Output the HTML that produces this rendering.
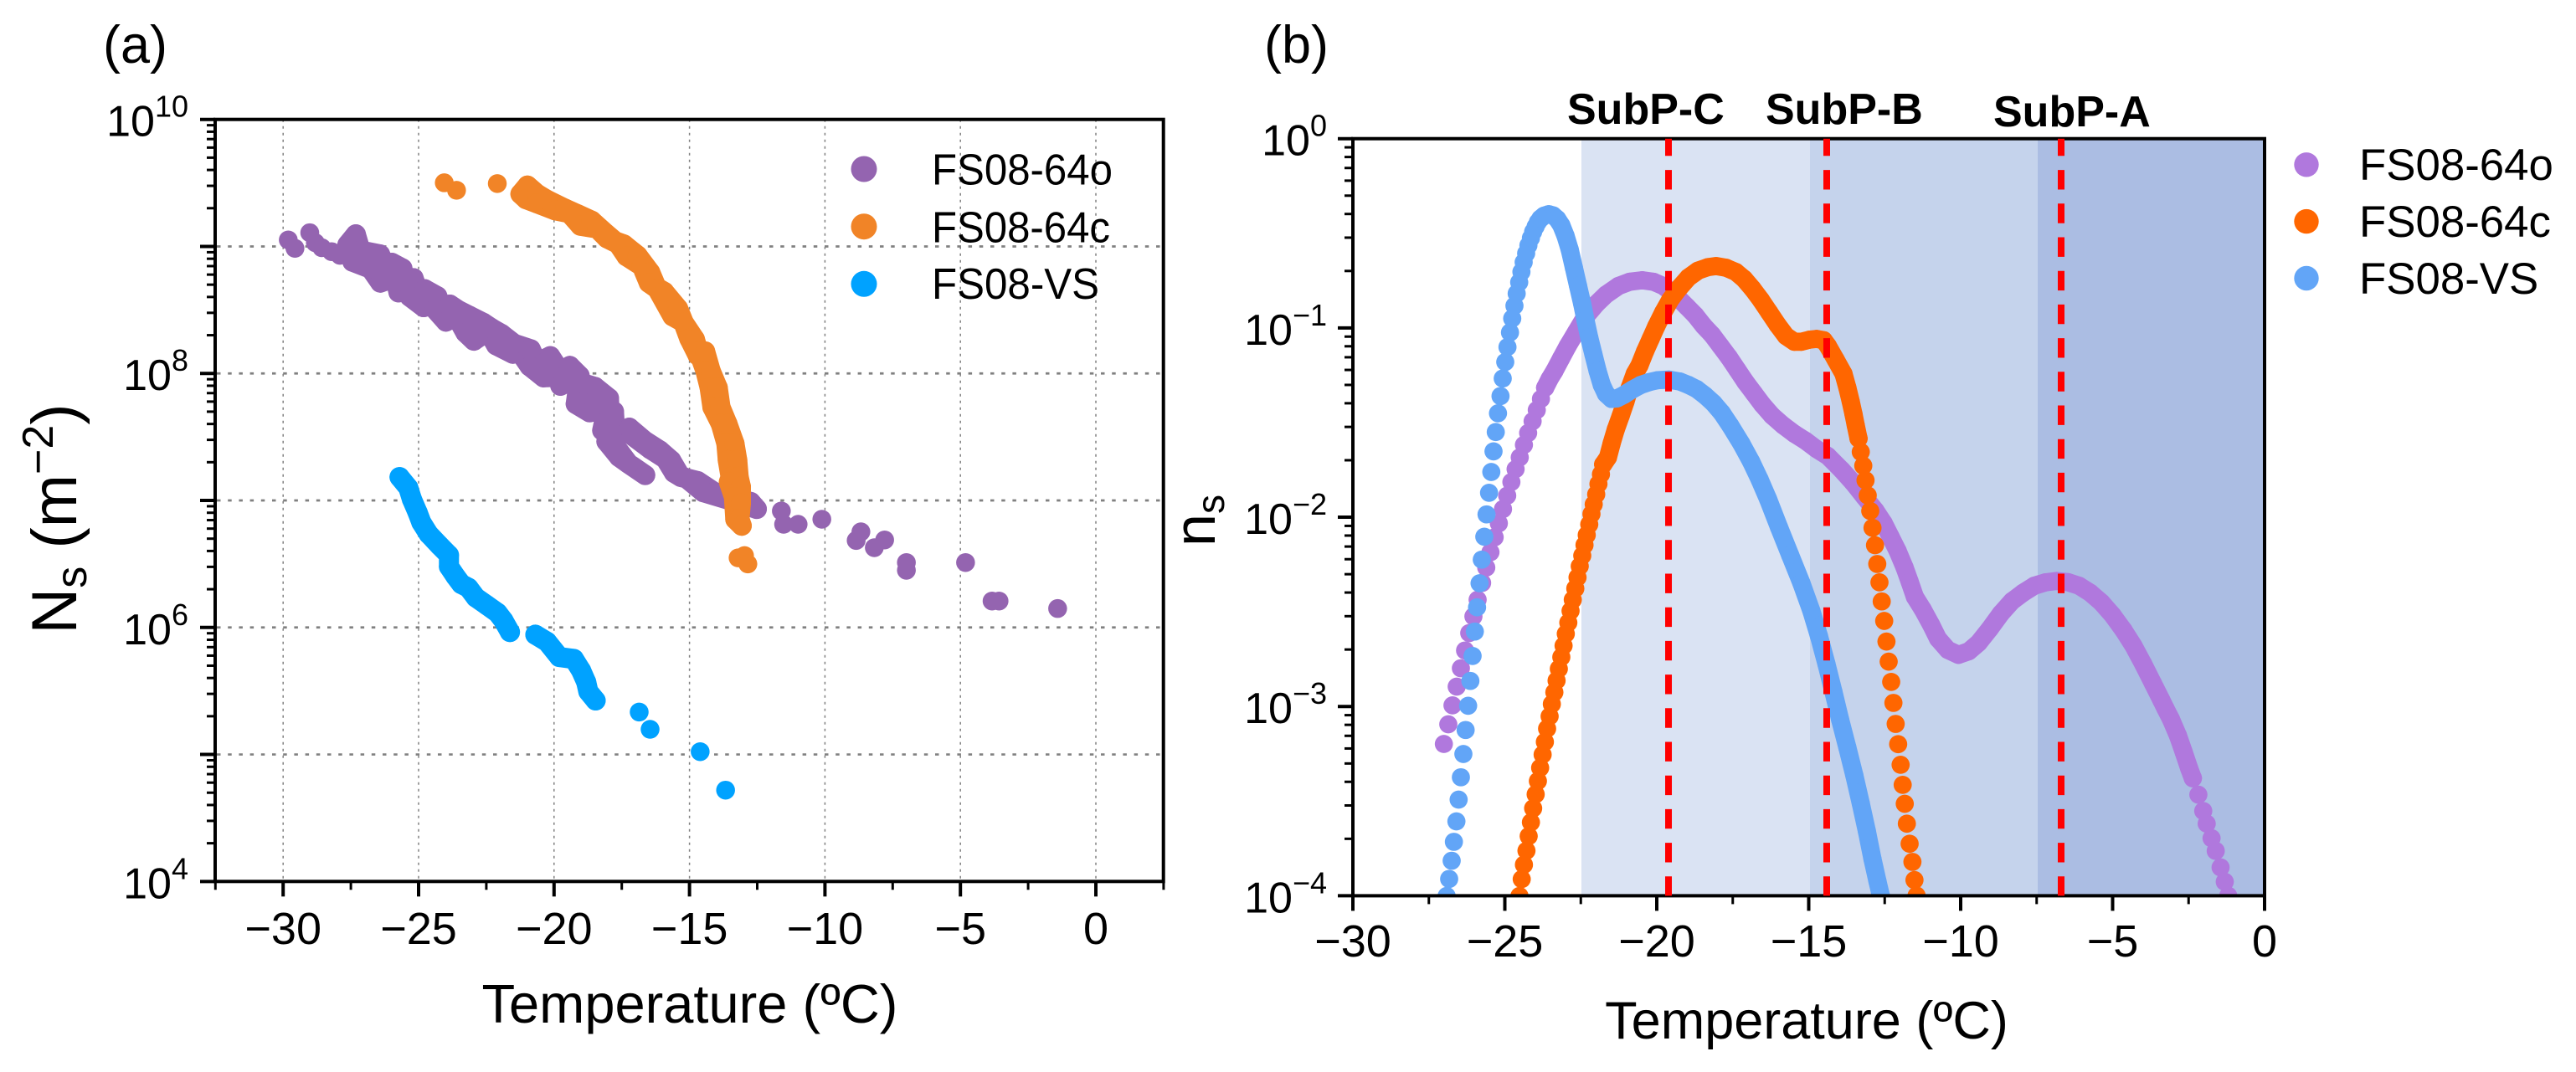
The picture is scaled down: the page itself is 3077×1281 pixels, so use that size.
<!DOCTYPE html>
<html lang="en">
<head>
<meta charset="utf-8">
<title>Ns and ns versus temperature</title>
<style>
html,body{margin:0;padding:0;background:#fff;}
svg{display:block;font-family:"Liberation Sans",Arial,sans-serif;}
</style>
</head>
<body>
<svg id="figure" width="3077" height="1281" viewBox="0 0 3077 1281">
  <rect x="0" y="0" width="3077" height="1281" fill="#ffffff"/>
  <defs>
    <clipPath id="clip-b"><rect x="1616" y="165.7" width="1089" height="904.7"/></clipPath>
  </defs>

  <text x="123" y="75" font-size="63">(a)</text>
  <text x="1510" y="75" font-size="63">(b)</text>

  <g id="a-grid"></g>
  <g id="a-series"></g>
  <rect x="257" y="142.7" width="1132.7" height="910.6" fill="none" stroke="#000" stroke-width="4"/>
  <g id="a-ticks"></g>
  <g id="a-labels"></g>
  <text x="824" y="1222" font-size="65" text-anchor="middle">Temperature (ºC)</text>
  <text transform="translate(91,620) rotate(-90)" font-size="76" text-anchor="middle">N<tspan font-size="52" dy="12">s</tspan><tspan dy="-12"> (m</tspan><tspan font-size="52" dy="-28">−2</tspan><tspan dy="28">)</tspan></text>

  <g>
    <circle cx="1032" cy="202" r="15.5" fill="#9464B0"/>
    <text x="1113" y="220.7" font-size="52" textLength="216" lengthAdjust="spacingAndGlyphs">FS08-64o</text>
    <circle cx="1032" cy="270.7" r="15.5" fill="#F18427"/>
    <text x="1113" y="289.3" font-size="52" textLength="213" lengthAdjust="spacingAndGlyphs">FS08-64c</text>
    <circle cx="1032" cy="339.3" r="15.5" fill="#00A2FF"/>
    <text x="1113" y="357" font-size="52" textLength="200" lengthAdjust="spacingAndGlyphs">FS08-VS</text>
  </g>

  <g id="b-shades" clip-path="url(#clip-b)"></g>
  <g id="b-series" clip-path="url(#clip-b)"></g>
  <rect x="1616" y="165.7" width="1089" height="904.7" fill="none" stroke="#000" stroke-width="4"/>
  <g id="b-ticks"></g>
  <g id="b-labels"></g>
  <g id="b-lines" clip-path="url(#clip-b)"></g>
  <text x="2158" y="1241" font-size="63" text-anchor="middle">Temperature (ºC)</text>
  <text transform="translate(1451,622) rotate(-90)" font-size="70" text-anchor="middle">n<tspan font-size="46" dy="11">s</tspan></text>

  <text x="1872" y="148" font-size="52" font-weight="bold">SubP-C</text>
  <text x="2109" y="148" font-size="52" font-weight="bold">SubP-B</text>
  <text x="2381" y="151" font-size="52" font-weight="bold">SubP-A</text>

  <g>
    <circle cx="2755" cy="196.8" r="14.7" fill="#B078DD"/>
    <text x="2818" y="215" font-size="52.8">FS08-64o</text>
    <circle cx="2755" cy="264.6" r="14.7" fill="#FF6600"/>
    <text x="2818" y="283" font-size="52.8">FS08-64c</text>
    <circle cx="2755" cy="332.5" r="14.7" fill="#62A5F7"/>
    <text x="2818" y="351" font-size="52.8">FS08-VS</text>
  </g>
</svg>

<script>
// ---------- Axis tick data ----------
const xTicksA = [-30, -25, -20, -15, -10, -5, 0];
const xMinorTicksA = [-32.5, -27.5, -22.5, -17.5, -12.5, -7.5, -2.5, 2.5];
const yDecadesA = [4, 5, 6, 7, 8, 9, 10];
const yLabelledA = [10, 8, 6, 4];
const xTicksB = [-30, -25, -20, -15, -10, -5, 0];
const xMinorTicksB = [-27.5, -22.5, -17.5, -12.5, -7.5, -2.5];
const yDecadesB = [-4, -3, -2, -1, 0];
const yLabelledB = [0, -1, -2, -3, -4];
const minorMultiples = [2, 3, 4, 5, 6, 7, 8, 9];

// ---------- Panel (a): temperature (°C) and log10(Ns) ----------
const a64oBandT = [-27.626,-27.317,-27.441,-27.142,-26.771,-26.421,-26.411,-26.030,-25.989,-25.597,-25.741,-25.515,-25.185,-25.329,-24.814,-24.773,-24.309,-24.402,-23.990,-23.846,-23.537,-23.269,-23.125,-22.960,-22.610,-22.301,-22.136,-21.940,-21.518,-21.477,-20.859,-20.900,-20.385,-20.138,-19.643,-19.767,-19.416,-19.056,-19.128,-19.200,-18.685,-18.510,-18.901,-18.489,-17.974,-17.943,-18.222,-17.789,-17.789,-18.067,-17.707,-17.604,-17.243,-16.635];
const a64oBandLog = [9.014,9.095,8.880,8.968,8.825,8.937,8.715,8.744,8.871,8.827,8.638,8.722,8.750,8.605,8.522,8.663,8.608,8.507,8.408,8.542,8.498,8.320,8.454,8.258,8.399,8.355,8.221,8.311,8.155,8.234,8.190,8.056,7.969,8.136,7.975,7.903,8.059,7.982,7.865,7.760,7.694,7.778,7.920,7.894,7.806,7.668,7.551,7.558,7.701,7.464,7.420,7.343,7.288,7.200];
const a64oBranchT = [-17.223,-17.068,-16.656,-16.450,-16.090,-15.884,-15.677,-15.574,-15.317,-15.111,-14.699,-14.493,-14.081,-13.463,-12.742,-12.515];
const a64oBranchLog = [7.573,7.503,7.470,7.404,7.393,7.327,7.316,7.218,7.185,7.174,7.152,7.065,7.065,6.999,6.988,6.933];
const a64oDotT = [-29.810,-29.563,-29.017,-28.811,-28.574,-28.213,-27.904,-11.609,-11.526,-10.991,-10.115,-8.848,-8.673,-8.178,-7.797,-6.994,-6.994,-4.810,-3.832,-3.574,-1.411];
const a64oDotLog = [9.051,8.985,9.108,9.029,8.990,8.959,8.930,6.917,6.812,6.812,6.852,6.685,6.753,6.628,6.689,6.511,6.450,6.511,6.208,6.208,6.149];

const a64cBandT = [-21.240,-20.982,-21.034,-20.622,-20.622,-20.261,-19.952,-19.592,-19.437,-19.128,-19.025,-18.613,-18.407,-18.098,-18.047,-17.634,-17.428,-17.325,-16.913,-16.759,-16.450,-16.501,-16.193,-15.935,-15.626,-15.420,-15.214,-15.008,-14.802,-14.699,-14.669,-14.422,-14.411,-14.216,-14.257,-13.958,-14.154,-13.855,-13.845,-13.597,-13.639,-13.340,-13.587,-13.237,-13.484,-13.185,-13.546,-13.103,-13.360,-13.103,-13.309,-13.155,-13.072];
const a64cBandLog = [9.413,9.479,9.372,9.413,9.339,9.367,9.284,9.297,9.262,9.253,9.163,9.203,9.141,9.104,9.064,9.020,9.016,8.922,8.928,8.845,8.796,8.713,8.667,8.643,8.450,8.511,8.401,8.274,8.269,8.142,8.173,8.173,8.019,8.019,7.888,7.888,7.734,7.734,7.602,7.602,7.448,7.448,7.317,7.317,7.185,7.185,7.145,7.108,7.027,6.976,6.851,6.855,6.801];
const a64cDotT = [-24.052,-23.599,-22.095,-13.206,-12.969,-12.846];
const a64cDotLog = [9.501,9.442,9.495,6.548,6.566,6.500];

const aVsBandT = [-25.702,-25.380,-25.246,-25.032,-24.898,-24.630,-24.228,-23.879,-23.879,-23.638,-23.424,-23.156,-22.888,-22.486,-22.084,-21.869,-21.628];
const aVsBandLog = [7.184,7.100,7.009,6.903,6.827,6.736,6.645,6.570,6.479,6.403,6.342,6.312,6.236,6.176,6.115,6.055,5.964];
const aVsBand2T = [-20.690,-20.261,-19.805,-19.269,-19.001,-18.813,-18.733,-18.465];
const aVsBand2Log = [5.943,5.888,5.767,5.752,5.661,5.570,5.495,5.425];
const aVsDotT = [-16.857,-16.455,-14.606,-13.668];
const aVsDotLog = [5.334,5.198,5.022,4.719];

// ---------- Panel (b): temperature (°C) and log10(ns) ----------
const b64oDotT = [-27.006,-26.860,-26.722,-26.584,-26.446,-26.308,-26.171,-26.033,-25.895,-25.748,-25.611,-25.473,-25.335,-25.197,-25.060,-24.922,-24.784,-24.646,-24.509,-24.371,-24.233,-24.086,-23.949,-23.811,-23.673,-2.360,-2.178,-2.018,-1.904,-1.744,-1.607,-1.447,-1.310,-1.196];
const b64oDotLog = [-3.198,-3.094,-2.994,-2.895,-2.798,-2.704,-2.612,-2.524,-2.436,-2.347,-2.266,-2.185,-2.106,-2.032,-1.957,-1.886,-1.814,-1.746,-1.684,-1.618,-1.555,-1.493,-1.434,-1.375,-1.316,-3.379,-3.466,-3.552,-3.619,-3.696,-3.763,-3.850,-3.926,-4.000];
const b64oBandT = [-23.673,-23.526,-23.370,-23.150,-22.929,-22.654,-22.378,-21.993,-21.671,-21.258,-20.891,-20.478,-20.110,-19.789,-19.421,-19.008,-18.733,-18.457,-18.182,-17.906,-17.631,-17.355,-17.080,-16.804,-16.529,-16.208,-15.840,-15.473,-15.106,-14.739,-14.371,-13.912,-13.544,-13.177,-12.810,-12.534,-12.305,-12.075,-11.845,-11.680,-11.506,-11.249,-10.973,-10.744,-10.422,-10.073,-9.733,-9.412,-9.045,-8.677,-8.310,-7.943,-7.576,-7.208,-6.841,-6.474,-6.106,-5.739,-5.372,-5.004,-4.637,-4.316,-3.995,-3.673,-3.398,-3.260,-3.076,-2.847,-2.663,-2.474,-2.360];
const b64oBandLog = [-1.316,-1.269,-1.228,-1.161,-1.095,-1.021,-.947,-.874,-.824,-.778,-.756,-.748,-.756,-.778,-.822,-.888,-.933,-.989,-1.036,-1.095,-1.154,-1.220,-1.286,-1.345,-1.404,-1.463,-1.515,-1.559,-1.596,-1.640,-1.677,-1.751,-1.817,-1.891,-1.964,-2.031,-2.104,-2.178,-2.266,-2.340,-2.421,-2.487,-2.568,-2.642,-2.701,-2.727,-2.708,-2.664,-2.590,-2.509,-2.443,-2.399,-2.362,-2.344,-2.337,-2.343,-2.362,-2.399,-2.450,-2.517,-2.598,-2.679,-2.775,-2.878,-2.966,-3.011,-3.069,-3.155,-3.240,-3.330,-3.379];

const b64cDotT = [-24.518,-24.444,-24.371,-24.288,-24.215,-24.141,-24.068,-23.985,-23.912,-23.838,-23.756,-23.682,-23.609,-23.526,-23.453,-23.370,-23.297,-23.223,-23.141,-23.067,-22.994,-22.911,-22.837,-22.764,-22.681,-22.608,-22.535,-22.452,-22.378,-22.305,-22.222,-22.149,-22.075,-21.993,-21.919,-21.837,-21.763,-13.361,-13.287,-13.205,-13.131,-13.058,-12.975,-12.901,-12.819,-12.745,-12.672,-12.598,-12.516,-12.442,-12.369,-12.286,-12.213,-12.139,-12.057,-11.976,-11.908,-11.840,-11.771,-11.680,-11.588,-11.520,-11.451];
const b64cDotLog = [-4.001,-3.912,-3.836,-3.762,-3.685,-3.612,-3.538,-3.464,-3.394,-3.324,-3.254,-3.187,-3.117,-3.052,-2.987,-2.925,-2.863,-2.801,-2.739,-2.679,-2.616,-2.557,-2.495,-2.436,-2.377,-2.318,-2.259,-2.203,-2.147,-2.094,-2.038,-1.983,-1.932,-1.879,-1.824,-1.773,-1.721,-1.584,-1.655,-1.728,-1.805,-1.885,-1.967,-2.056,-2.148,-2.247,-2.344,-2.445,-2.548,-2.657,-2.763,-2.870,-2.981,-3.092,-3.199,-3.308,-3.414,-3.514,-3.619,-3.725,-3.821,-3.917,-3.999];
const b64cBandT = [-21.763,-21.607,-21.487,-21.350,-21.185,-21.029,-20.891,-20.725,-20.569,-20.386,-20.202,-20.018,-19.789,-19.559,-19.284,-18.962,-18.641,-18.320,-18.044,-17.723,-17.401,-17.126,-16.850,-16.575,-16.299,-16.024,-15.748,-15.473,-15.243,-14.968,-14.739,-14.509,-14.371,-14.113,-13.856,-13.728,-13.618,-13.526,-13.452,-13.361];
const b64cBandLog = [-1.721,-1.684,-1.611,-1.537,-1.463,-1.389,-1.316,-1.242,-1.198,-1.124,-1.058,-.992,-.918,-.852,-.793,-.734,-.697,-.679,-.673,-.682,-.704,-.741,-.793,-.852,-.918,-.984,-1.043,-1.073,-1.073,-1.062,-1.058,-1.065,-1.095,-1.168,-1.242,-1.316,-1.389,-1.456,-1.515,-1.584];

const bVsDotT = [-26.915,-26.832,-26.749,-26.676,-26.593,-26.520,-26.446,-26.364,-26.290,-26.208,-26.134,-26.061,-25.987,-25.914,-25.831,-25.758,-25.675,-25.602,-25.519,-25.445,-25.372,-25.298,-25.225,-25.142,-25.069,-24.986,-24.913,-24.830,-24.757,-24.683,-24.610,-24.527,-24.454,-24.380,-24.298,-24.224,-24.141,-24.068,-23.985,-23.912,-23.829];
const bVsDotLog = [-4.001,-3.911,-3.815,-3.715,-3.607,-3.492,-3.374,-3.251,-3.124,-2.996,-2.865,-2.733,-2.604,-2.476,-2.349,-2.224,-2.103,-1.985,-1.871,-1.761,-1.652,-1.550,-1.451,-1.360,-1.267,-1.180,-1.101,-1.024,-.950,-.883,-.818,-.759,-.704,-.653,-.606,-.564,-.525,-.492,-.464,-.441,-.423];
const bVsBandT = [-23.829,-23.710,-23.554,-23.416,-23.278,-23.140,-23.003,-22.865,-22.727,-22.590,-22.452,-22.342,-22.222,-22.085,-21.947,-21.809,-21.671,-21.488,-21.304,-21.074,-20.799,-20.523,-20.248,-19.972,-19.605,-19.238,-18.962,-18.687,-18.411,-18.136,-17.860,-17.585,-17.218,-16.896,-16.612,-16.336,-15.978,-15.611,-15.243,-14.913,-14.665,-14.417,-14.187,-13.967,-13.728,-13.499,-13.287,-13.086,-12.902,-12.737,-12.626];
const bVsBandLog = [-.423,-.407,-.399,-.405,-.424,-.458,-.513,-.586,-.682,-.778,-.874,-.962,-1.051,-1.139,-1.227,-1.301,-1.348,-1.375,-1.372,-1.353,-1.325,-1.301,-1.286,-1.276,-1.273,-1.283,-1.301,-1.323,-1.357,-1.397,-1.449,-1.515,-1.611,-1.706,-1.802,-1.905,-2.053,-2.200,-2.347,-2.495,-2.627,-2.775,-2.922,-3.069,-3.217,-3.364,-3.512,-3.659,-3.806,-3.924,-4.000];

// ---------- Panel (b) annotations ----------
const shadeStarts = [-22.48, -14.96, -7.47];
const shadeEnds = [-14.96, -7.47, 0];
const shadeFills = ['#DAE3F3', '#C5D3EC', '#ABBDE3'];
const subPopulationT = [-19.614, -14.408, -6.694];

// ---------- Axis functions ----------
const xA = t => 1309 + t * 32.36;
const yA = l => 142.7 + (10 - l) * 151.77;
const xB = t => 2705 + t * 36.3;
const yB = l => 165.7 - l * 226.18;

const NS = document.getElementById('figure').namespaceURI;
function add(parent, tag, attrs) {
  const el = document.createElementNS(NS, tag);
  for (const k in attrs) el.setAttribute(k, attrs[k]);
  parent.appendChild(el);
  return el;
}

function drawDots(group, ts, ls, fx, fy, r, color, seriesName) {
  ts.forEach((t, i) => {
    const c = add(group, 'circle', { cx: fx(t).toFixed(2), cy: fy(ls[i]).toFixed(2), r: r, fill: color });
    
    
  });
}
function drawBand(group, ts, ls, fx, fy, r, color, seriesName, fillHull) {
  let d = ts.map((t, i) => (i ? 'L' : 'M') + fx(t).toFixed(2) + ' ' + fy(ls[i]).toFixed(2)).join('');
  if (fillHull) {
    // also join every second point so the two edges of a thick scatter band stay solid
    ts.forEach((t, i) => {
      if (i + 2 < ts.length) {
        d += 'M' + fx(t).toFixed(2) + ' ' + fy(ls[i]).toFixed(2) + 'L' + fx(ts[i + 2]).toFixed(2) + ' ' + fy(ls[i + 2]).toFixed(2);
      }
    });
  }
  const p = add(group, 'path', { d: d, fill: 'none', stroke: color, 'stroke-width': 2 * r, 'stroke-linecap': 'round', 'stroke-linejoin': 'round' });
  
  
  drawDots(group, ts, ls, fx, fy, r, color, seriesName);
}

// ---------- Panel (a) grid ----------
const aGrid = document.getElementById('a-grid');
xTicksA.forEach(v => {
  const l = add(aGrid, 'line', { x1: xA(v), x2: xA(v), y1: 142.7, y2: 1053.3, stroke: '#808080', 'stroke-width': 1.5, 'stroke-dasharray': '3 5' });
  
  
});
yDecadesA.filter(d => d > 4 && d < 10).forEach(d => {
  const l = add(aGrid, 'line', { x1: 259, x2: 1388, y1: yA(d), y2: yA(d), stroke: '#808080', 'stroke-width': 2.7, 'stroke-dasharray': '4.5 8.7' });
  
  
});

// ---------- Panel (a) series ----------
const aSeries = document.getElementById('a-series');
const rA = 11.25;
const rBandA = 12;
drawBand(aSeries, a64oBandT, a64oBandLog, xA, yA, rBandA, '#9464B0', 'fs08-64o', true);
drawBand(aSeries, a64oBranchT, a64oBranchLog, xA, yA, rBandA, '#9464B0', 'fs08-64o', true);
drawDots(aSeries, a64oDotT, a64oDotLog, xA, yA, rA, '#9464B0', 'fs08-64o');
drawBand(aSeries, a64cBandT, a64cBandLog, xA, yA, rBandA, '#F18427', 'fs08-64c', true);
drawDots(aSeries, a64cDotT, a64cDotLog, xA, yA, rA, '#F18427', 'fs08-64c');
drawBand(aSeries, aVsBandT, aVsBandLog, xA, yA, rBandA, '#00A2FF', 'fs08-vs', false);
drawBand(aSeries, aVsBand2T, aVsBand2Log, xA, yA, rBandA, '#00A2FF', 'fs08-vs', false);
drawDots(aSeries, aVsDotT, aVsDotLog, xA, yA, rA, '#00A2FF', 'fs08-vs');

// ---------- Panel (b) shades ----------
const bShades = document.getElementById('b-shades');
shadeStarts.forEach((s, i) => {
  const r = add(bShades, 'rect', { x: xB(s), y: 165.7, width: xB(shadeEnds[i]) - xB(s), height: 904.7, fill: shadeFills[i] });
  
  
});

// ---------- Panel (b) series ----------
const bSeries = document.getElementById('b-series');
const rB = 10.85;
drawBand(bSeries, b64oBandT, b64oBandLog, xB, yB, rB, '#B078DD', 'fs08-64o', false);
drawDots(bSeries, b64oDotT, b64oDotLog, xB, yB, rB, '#B078DD', 'fs08-64o');
drawBand(bSeries, b64cBandT, b64cBandLog, xB, yB, rB, '#FF6600', 'fs08-64c', false);
drawDots(bSeries, b64cDotT, b64cDotLog, xB, yB, rB, '#FF6600', 'fs08-64c');
drawBand(bSeries, bVsBandT, bVsBandLog, xB, yB, rB, '#62A5F7', 'fs08-vs', false);
drawDots(bSeries, bVsDotT, bVsDotLog, xB, yB, rB, '#62A5F7', 'fs08-vs');

// ---------- Panel (b) vertical dashed lines ----------
const bLines = document.getElementById('b-lines');
subPopulationT.forEach(t => {
  const l = add(bLines, 'line', { x1: xB(t), x2: xB(t), y1: 162.9, y2: 1071, stroke: '#FF0000', 'stroke-width': 8, 'stroke-dasharray': '23.4 16.8' });
  
  
});

// ---------- Ticks and labels ----------
function drawTicks(group, xMaj, xMin, decades, fx, fy, left, bottom) {
  xMaj.forEach(v => {
    const t = add(group, 'line', { x1: fx(v), x2: fx(v), y1: bottom, y2: bottom + 18, stroke: '#000', 'stroke-width': 4 });
    
    
  });
  xMin.forEach(v => {
    const t = add(group, 'line', { x1: fx(v), x2: fx(v), y1: bottom, y2: bottom + 10, stroke: '#000', 'stroke-width': 3 });
    
    
  });
  decades.forEach(d => {
    const t = add(group, 'line', { x1: left - 18, x2: left, y1: fy(d), y2: fy(d), stroke: '#000', 'stroke-width': 4 });
    
    
    if (d < decades[decades.length - 1]) {
      minorMultiples.forEach(m => {
        const yy = fy(d + Math.log10(m));
        const t2 = add(group, 'line', { x1: left - 10, x2: left, y1: yy, y2: yy, stroke: '#000', 'stroke-width': 3 });
        
        
      });
    }
  });
}
function drawLabels(group, xMaj, labelled, fx, fy, xBaseline, yRight) {
  xMaj.forEach(v => {
    const t = add(group, 'text', { x: fx(v), y: xBaseline, 'font-size': 54, 'text-anchor': 'middle' });
    
    
    t.textContent = String(v).replace('-', '\u2212');
  });
  labelled.forEach(d => {
    const t = add(group, 'text', { x: yRight, y: fy(d) + 20, 'font-size': 52, 'text-anchor': 'end' });
    
    
    t.textContent = '10';
    const s = add(t, 'tspan', { dy: -23, 'font-size': 36 });
    s.textContent = String(d).replace('-', '\u2212');
  });
}
drawTicks(document.getElementById('a-ticks'), xTicksA, xMinorTicksA, yDecadesA, xA, yA, 257, 1053.3);
drawLabels(document.getElementById('a-labels'), xTicksA, yLabelledA, xA, yA, 1128, 225);
drawTicks(document.getElementById('b-ticks'), xTicksB, xMinorTicksB, yDecadesB, xB, yB, 1616, 1070.4);
drawLabels(document.getElementById('b-labels'), xTicksB, yLabelledB, xB, yB, 1143, 1585);
</script>
</body>
</html>
